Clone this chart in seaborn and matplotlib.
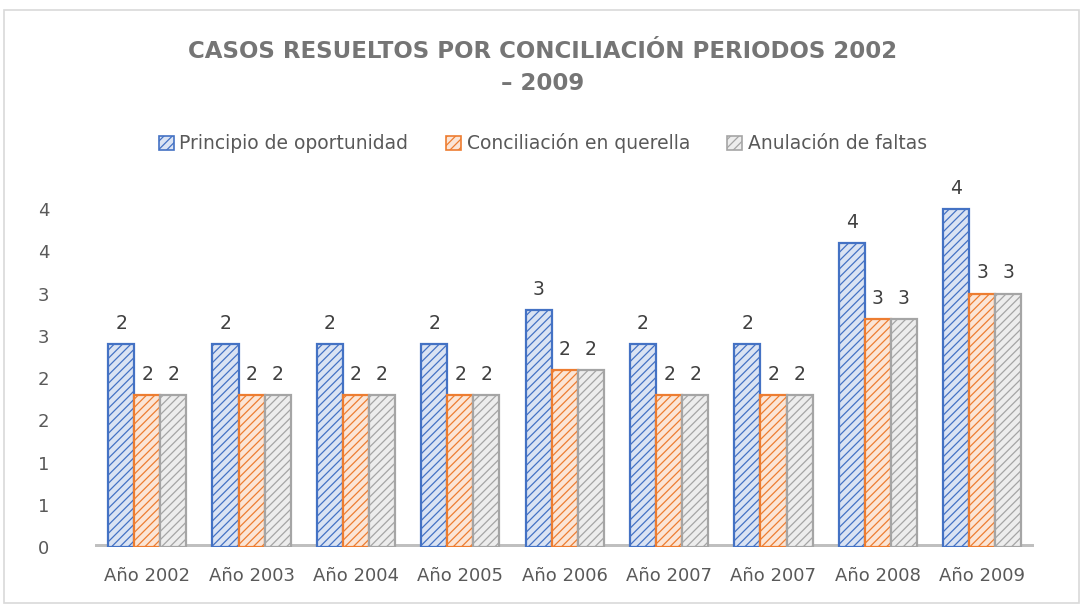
import matplotlib
matplotlib.use("Agg")
import matplotlib.pyplot as plt
from matplotlib.patches import Rectangle
import pandas as pd
import seaborn as sns

# data
years = ["Año 2002", "Año 2003", "Año 2004", "Año 2005", "Año 2006",
         "Año 2007", "Año 2007 ", "Año 2008", "Año 2009"]
principio = [2.4, 2.4, 2.4, 2.4, 2.8, 2.4, 2.4, 3.6, 4.0]
conciliacion = [1.8, 1.8, 1.8, 1.8, 2.1, 1.8, 1.8, 2.7, 3.0]
anulacion = [1.8, 1.8, 1.8, 1.8, 2.1, 1.8, 1.8, 2.7, 3.0]
series = ["Principio de oportunidad", "Conciliación en querella", "Anulación de faltas"]
ytick_vals = [0, 0.5, 1, 1.5, 2, 2.5, 3, 3.5, 4]
ytick_labels = ["0", "1", "1", "2", "2", "3", "3", "4", "4"]

df = pd.DataFrame({
    "year": years * 3,
    "serie": [series[0]] * 9 + [series[1]] * 9 + [series[2]] * 9,
    "valor": principio + conciliacion + anulacion,
})

sns.set_style("white")
plt.rcParams["hatch.linewidth"] = 0.9

fig = plt.figure(figsize=(10.86, 6.12), dpi=100)
ax = fig.add_axes([0.0875, 0.106, 0.865, 0.58])

sns.barplot(data=df, x="year", y="valor", hue="serie", order=years,
            hue_order=series, width=0.75, gap=0, ax=ax, legend=False,
            errorbar=None)

faces = ["#DAE3F3", "#FBE5D6", "#EDEDED"]
edges = ["#4472C4", "#ED7D31", "#A5A5A5"]
for cont, fc, ec in zip(ax.containers, faces, edges):
    for p in cont:
        p.set_facecolor(fc)
        p.set_edgecolor(ec)
        p.set_hatch("////")
        p.set_linewidth(1.6)
    ax.bar_label(cont, fmt="{:.0f}", padding=8, fontsize=13.5, color="#404040")

ax.axhline(0, color="#BFBFBF", lw=5, zorder=0)
ax.set_ylim(0, 4.2)
ax.set_xlim(-0.5, 8.5)
ax.set_yticks(ytick_vals)
ax.set_yticklabels(ytick_labels)
ax.set_xticks(range(len(years)))
ax.set_xticklabels([y.strip() for y in years])
ax.tick_params(axis="y", length=0, pad=33, labelsize=13, labelcolor="#595959")
ax.tick_params(axis="x", length=0, pad=14, labelsize=13, labelcolor="#595959")
ax.set_xlabel("")
ax.set_ylabel("")
for s in ax.spines.values():
    s.set_visible(False)

handles = [Rectangle((0, 0), 1, 1, facecolor=fc, edgecolor=ec, hatch="////", lw=1.2)
           for fc, ec in zip(faces, edges)]
fig.legend(handles, series, loc="center", bbox_to_anchor=(0.5, 0.766), ncol=3,
           frameon=False, fontsize=13.5, handlelength=0.8, handleheight=0.8,
           handletextpad=0.3, columnspacing=2.0, labelcolor="#595959")

fig.text(0.5, 0.89, "CASOS RESUELTOS POR CONCILIACIÓN PERIODOS 2002\n– 2009",
         ha="center", va="center", fontsize=16.5, fontweight="bold",
         color="#757575", linespacing=1.5)

fig.patches.append(Rectangle((0.004, 0.015), 0.99, 0.968, transform=fig.transFigure,
                             fill=False, edgecolor="#D9D9D9", lw=1.2))

fig.savefig("out.png", dpi=100)
